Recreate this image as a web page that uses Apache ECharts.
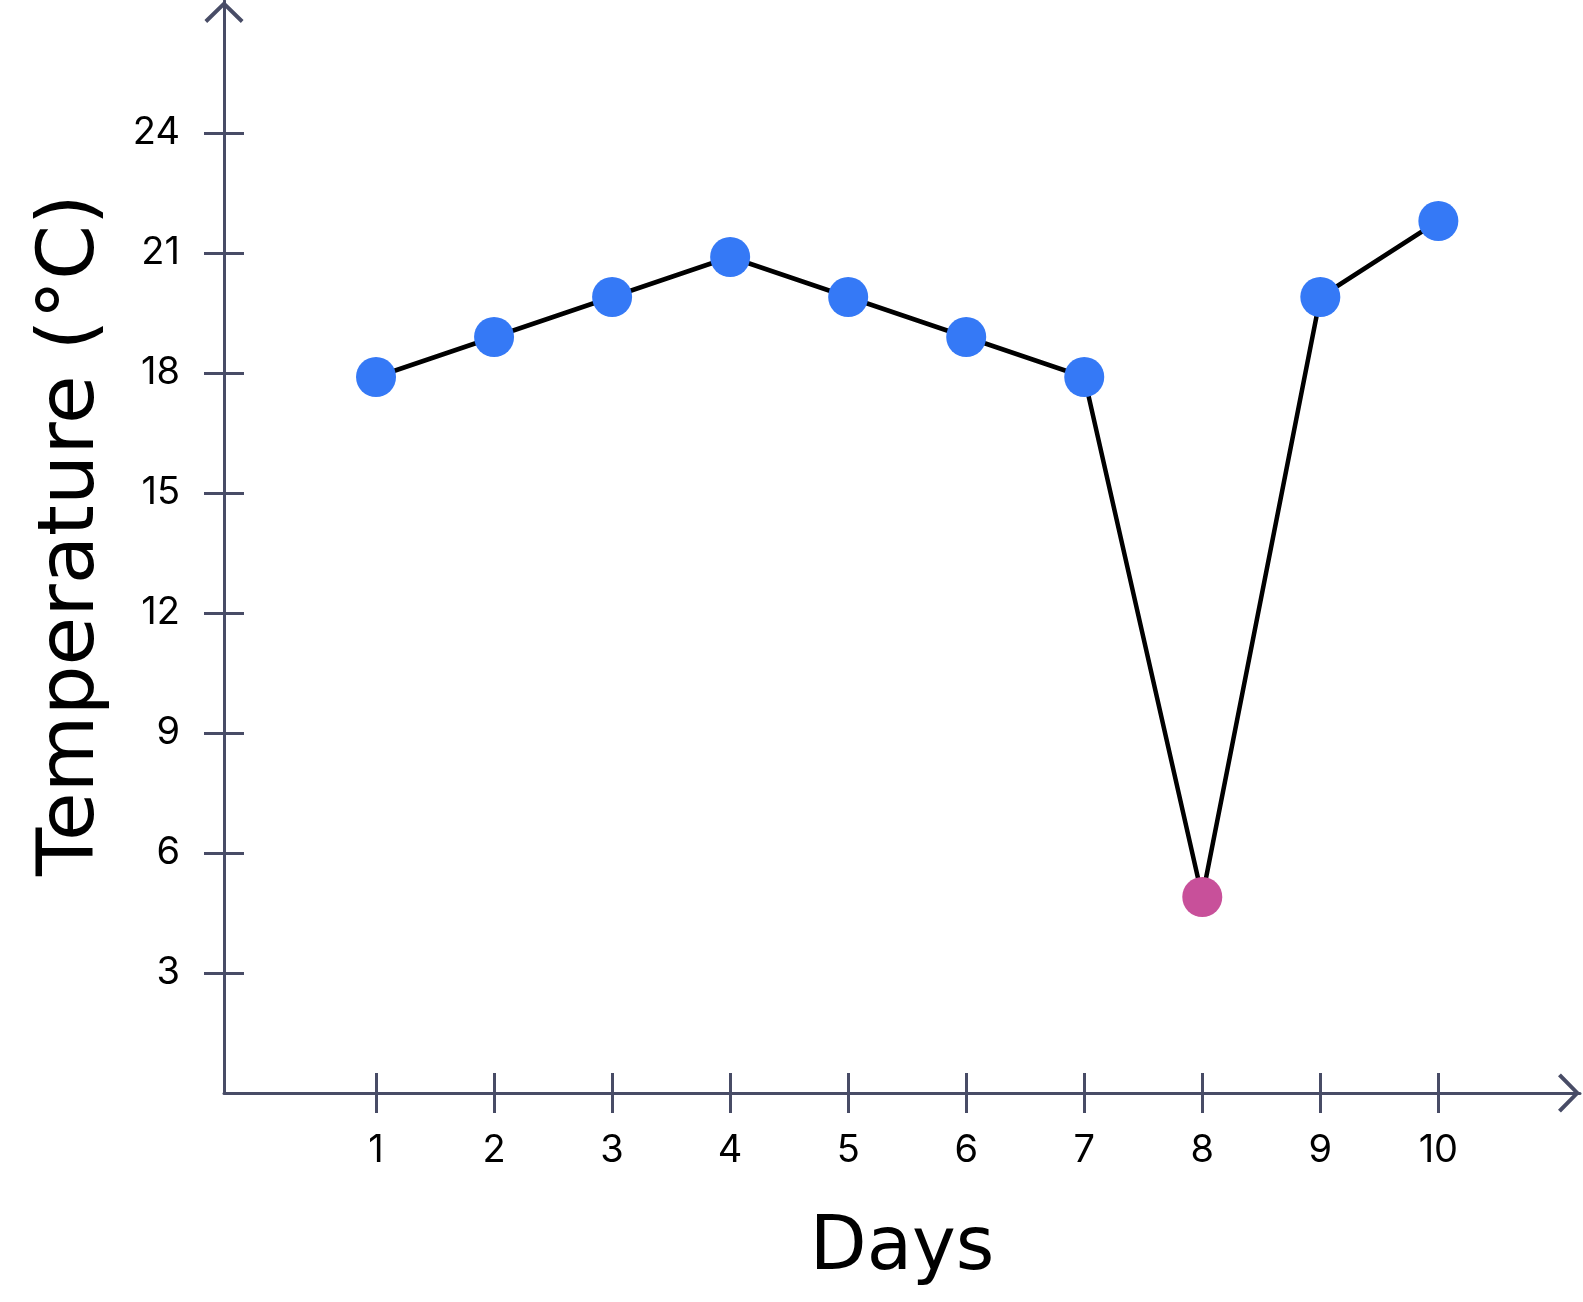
<!DOCTYPE html>
<html>
<head>
<meta charset="utf-8">
<script src="https://cdn.jsdelivr.net/npm/echarts@6/dist/echarts.min.js"></script>
<style>
html,body{margin:0;padding:0;background:#fff;}
#chart{width:1583px;height:1302px;}
</style>
</head>
<body>
<div id="chart"></div>
<script>
// ---- data ----
var days = [1, 2, 3, 4, 5, 6, 7, 8, 9, 10];
var temperatures = [17.9, 18.9, 19.9, 20.9, 19.9, 18.9, 17.9, 4.9, 19.9, 21.8];
var outlierDay = 8;
var yTickValues = [3, 6, 9, 12, 15, 18, 21, 24];
var xTickValues = [1, 2, 3, 4, 5, 6, 7, 8, 9, 10];
var xAxisTitle = 'Days';
var yAxisTitle = 'Temperature (°C)';

// ---- styles ----
var AXIS = '#484C66';
var BLUE = '#3579F6';
var PINK = '#C8509A';
var FONT = 'Inter';
var TITLE_FONT = 'DejaVu Sans';
var chevron = 'path://M20,0 L40,19.5 L37.2,22.5 L20,5.5 L2.8,22.5 L0,19.5 Z';

var points = days.map(function (d, i) {
  return {
    value: [d, temperatures[i]],
    itemStyle: { color: d === outlierDay ? PINK : BLUE }
  };
});

var xMin = -0.288, xMax = 11.2, yMin = 0, yMax = 27.3;

var chart = echarts.init(document.getElementById('chart'), null, { renderer: 'canvas' });
chart.setOption({
  animation: false,
  backgroundColor: '#fff',
  grid: { left: 224, right: 3, top: 1, bottom: 209, containLabel: false },
  xAxis: [{
    type: 'value', min: xMin, max: xMax, position: 'bottom',
    splitLine: { show: false },
    axisLine: {
      show: true, onZero: false,
      lineStyle: { color: AXIS, width: 3 },
      symbol: ['none', chevron], symbolSize: [40, 22], symbolOffset: [0, -11]
    },
    axisTick: { show: true, length: 20, lineStyle: { color: AXIS, width: 3 }, customValues: xTickValues },
    axisLabel: { show: true, customValues: xTickValues, margin: 39, color: '#000', fontSize: 38, fontFamily: FONT },
    name: xAxisTitle, nameLocation: 'middle', nameGap: 120,
    nameTextStyle: { color: '#000', fontSize: 74, fontFamily: TITLE_FONT }
  }, {
    type: 'value', min: xMin, max: xMax, position: 'bottom',
    splitLine: { show: false },
    axisLine: { show: false, onZero: false },
    axisTick: { show: true, inside: true, length: 20, lineStyle: { color: AXIS, width: 3 }, customValues: xTickValues },
    axisLabel: { show: false }
  }],
  yAxis: [{
    type: 'value', min: yMin, max: yMax, position: 'left',
    splitLine: { show: false },
    axisLine: {
      show: true, onZero: false,
      lineStyle: { color: AXIS, width: 3 },
      symbol: ['none', chevron], symbolSize: [40, 22], symbolOffset: [0, -11]
    },
    axisTick: { show: true, length: 20, lineStyle: { color: AXIS, width: 3 }, customValues: yTickValues },
    axisLabel: { show: true, customValues: yTickValues, margin: 44, color: '#000', fontSize: 38, fontFamily: FONT },
    name: yAxisTitle, nameLocation: 'middle', nameGap: 112, nameRotate: 90,
    nameTextStyle: { color: '#000', fontSize: 79, fontFamily: TITLE_FONT, padding: [0, 0, 0, 24] }
  }, {
    type: 'value', min: yMin, max: yMax, position: 'left',
    splitLine: { show: false },
    axisLine: { show: false, onZero: false },
    axisTick: { show: true, inside: true, length: 20, lineStyle: { color: AXIS, width: 3 }, customValues: yTickValues },
    axisLabel: { show: false }
  }],
  series: [{
    type: 'line',
    xAxisIndex: 0, yAxisIndex: 0,
    data: points,
    symbol: 'circle', symbolSize: 40,
    lineStyle: { color: '#000', width: 4.5 },
    itemStyle: { color: BLUE },
    z: 3
  }]
});
</script>
</body>
</html>
